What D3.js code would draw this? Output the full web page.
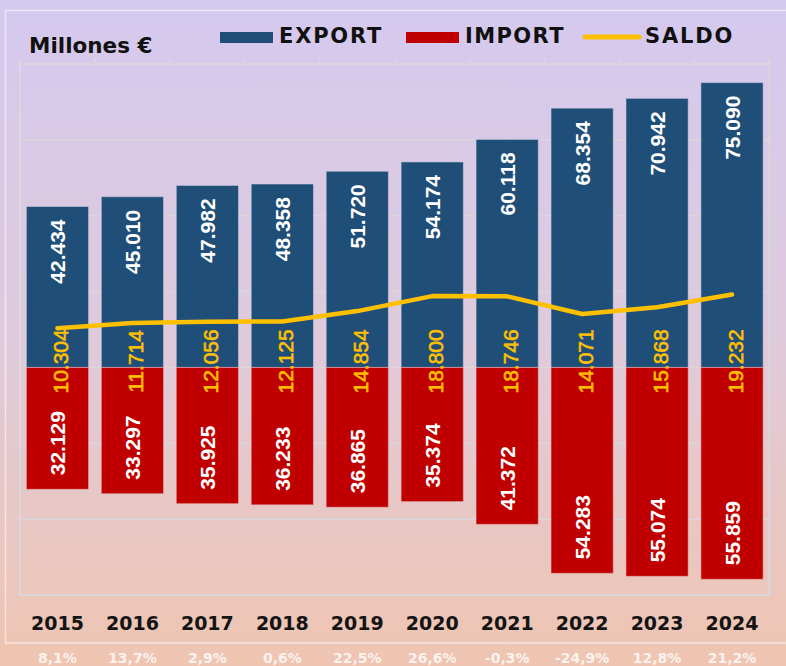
<!DOCTYPE html>
<html>
<head>
<meta charset="utf-8">
<script src="https://cdn.jsdelivr.net/npm/d3@7"></script>
<style>
  html, body { margin: 0; padding: 0; }
  body { width: 786px; height: 666px; overflow: hidden; }
</style>
</head>
<body>
<svg id="chart" width="786" height="666"></svg>
<script>
const years = ["2015","2016","2017","2018","2019","2020","2021","2022","2023","2024"];
const exportVals = [42434, 45010, 47982, 48358, 51720, 54174, 60118, 68354, 70942, 75090];
const importVals = [32129, 33297, 35925, 36233, 36865, 35374, 41372, 54283, 55074, 55859];
const saldoVals  = [10304, 11714, 12056, 12125, 14854, 18800, 18746, 14071, 15868, 19232];
const growthPct  = [8.1, 13.7, 2.9, 0.6, 22.5, 26.6, -0.3, -24.9, 12.8, 21.2];
const yTicks = [-40000, -20000, 0, 20000, 40000, 60000];
const yDomain = [-60000, 80000];
const seriesNames = ["EXPORT", "IMPORT", "SALDO"];

const C_EXP = "#1f4e79", C_IMP = "#c00000", C_SAL = "#ffc000";
const W = 786, H = 666;
const L = 20, R = 769.5, T = 64, B = 595;

const es = d3.formatLocale({decimal: ",", thousands: ".", grouping: [3], currency: ["", "€"], minus: "-"});
const fmtInt = es.format(",d");
const fmtPct = v => es.format(".1f")(v) + "%";

const svg = d3.select("#chart");
const defs = svg.append("defs");
const grad = defs.append("linearGradient").attr("id","bg").attr("x1",0).attr("y1",0).attr("x2",0).attr("y2",1);
grad.append("stop").attr("offset","0%").attr("stop-color","#d4c9ef");
grad.append("stop").attr("offset","50%").attr("stop-color","#dfcadc");
grad.append("stop").attr("offset","100%").attr("stop-color","#efc5b1");
svg.append("rect").attr("width",W).attr("height",H).attr("fill","url(#bg)");

// outer frame
svg.append("rect").attr("x",5.5).attr("y",10.5).attr("width",820).attr("height",632.5)
  .attr("fill","none").attr("stroke","rgba(255,255,255,0.55)").attr("stroke-width",1.5);

const x = d3.scaleBand().domain(years).range([L, R]).padding(0);
const y = d3.scaleLinear().domain(yDomain).range([B, T]);
const barW = x.bandwidth() * 0.83;
const cx = d => x(d) + x.bandwidth()/2;

// gridlines
const gridC = "#d9d6dc";
svg.append("g").selectAll("line").data(yTicks).join("line")
  .attr("x1", L).attr("x2", R).attr("y1", d => y(d)).attr("y2", d => y(d))
  .attr("stroke", gridC).attr("stroke-width", 1.5);

// plot frame
const frame = svg.append("g").attr("stroke", gridC).attr("stroke-width", 2).attr("fill","none");
frame.append("line").attr("x1",L).attr("x2",R).attr("y1",T).attr("y2",T);
frame.append("line").attr("x1",L).attr("x2",R).attr("y1",B).attr("y2",B);
frame.append("line").attr("x1",L).attr("x2",L).attr("y1",T-5).attr("y2",B);
frame.append("line").attr("x1",R).attr("x2",R).attr("y1",T-5).attr("y2",B);
const bounds = years.map(d => x(d)).concat([R]);
frame.selectAll("line.tk").data(bounds).join("line").attr("class","tk")
  .attr("x1", d=>d).attr("x2", d=>d).attr("y1", T-5).attr("y2", T);

// bars
const gB = svg.append("g");
gB.selectAll("rect.exp").data(years).join("rect").attr("class","exp")
  .attr("x", (d)=> cx(d) - barW/2).attr("width", barW)
  .attr("y", (d,i)=> y(exportVals[i])).attr("height", (d,i)=> y(0) - y(exportVals[i]))
  .attr("fill", C_EXP).attr("stroke","rgba(210,210,225,0.55)").attr("stroke-width",1);
gB.selectAll("rect.imp").data(years).join("rect").attr("class","imp")
  .attr("x", (d)=> cx(d) - barW/2).attr("width", barW)
  .attr("y", y(0)).attr("height", (d,i)=> y(-importVals[i]) - y(0))
  .attr("fill", C_IMP).attr("stroke","rgba(230,190,190,0.55)").attr("stroke-width",1);

// saldo line
const line = d3.line().x((d,i)=> cx(years[i])).y(d => y(d)).curve(d3.curveLinear);
svg.append("path").datum(saldoVals).attr("d", line).attr("fill","none")
  .attr("stroke", C_SAL).attr("stroke-width", 4.5).attr("stroke-linecap","round").attr("stroke-linejoin","round");

// value labels
const lblFont = "'Liberation Sans', Arial, sans-serif";
const gL = svg.append("g").attr("font-family", lblFont).attr("font-size", 21).attr("font-weight", "bold");
gL.selectAll("text.e").data(years).join("text").attr("class","e")
  .attr("transform", (d,i)=> `translate(${cx(d)},${y(exportVals[i]) + 13}) rotate(-90)`)
  .attr("text-anchor","end").attr("dy","0.36em").attr("fill","#fff")
  .text((d,i)=> fmtInt(exportVals[i]));
gL.selectAll("text.i").data(years).join("text").attr("class","i")
  .attr("transform", (d,i)=> `translate(${cx(d)},${y(-importVals[i]) - 14}) rotate(-90)`)
  .attr("text-anchor","start").attr("dy","0.36em").attr("fill","#fff")
  .text((d,i)=> fmtInt(importVals[i]));
gL.selectAll("text.s").data(years).join("text").attr("class","s")
  .attr("transform", (d)=> `translate(${cx(d) + 3},${y(0) - 6}) rotate(-90)`)
  .attr("text-anchor","middle").attr("dy","0.36em").attr("fill", C_SAL).attr("font-weight","normal")
  .style("paint-order","stroke").attr("stroke", C_SAL).attr("stroke-width", 0.6)
  .text((d,i)=> fmtInt(saldoVals[i]));

// x labels
const axFont = "'DejaVu Sans', Verdana, sans-serif";
svg.append("g").selectAll("text").data(years).join("text")
  .attr("x", d => cx(d)).attr("y", 630).attr("text-anchor","middle")
  .attr("font-family", axFont).attr("font-weight","bold").attr("font-size", 19).attr("fill","#141414")
  .text(d => d);
svg.append("g").selectAll("text").data(years).join("text")
  .attr("x", d => cx(d)).attr("y", 663).attr("text-anchor","middle")
  .attr("font-family", axFont).attr("font-weight","bold").attr("font-size", 14).attr("fill","#fbf3ef")
  .text((d,i) => fmtPct(growthPct[i]));

// title & legend
svg.append("text").attr("x", 29).attr("y", 53).attr("font-family", axFont).attr("font-weight","bold")
  .attr("font-size", 21.5).attr("fill","#111").text("Millones €");
const lg = svg.append("g").attr("font-family", axFont).attr("font-weight","bold").attr("font-size", 21).attr("fill","#111");
lg.append("rect").attr("x",220).attr("y",32).attr("width",53).attr("height",11).attr("fill",C_EXP);
lg.append("text").attr("x",279).attr("y",43).attr("letter-spacing",1.8).text(seriesNames[0]);
lg.append("rect").attr("x",406).attr("y",32).attr("width",53).attr("height",11).attr("fill",C_IMP);
lg.append("text").attr("x",465).attr("y",43).attr("letter-spacing",1.4).text(seriesNames[1]);
lg.append("line").attr("x1",585).attr("x2",639).attr("y1",37).attr("y2",37).attr("stroke",C_SAL).attr("stroke-width",5).attr("stroke-linecap","round");
lg.append("text").attr("x",645).attr("y",43).attr("letter-spacing",1.8).text(seriesNames[2]);
</script>
</body>
</html>
